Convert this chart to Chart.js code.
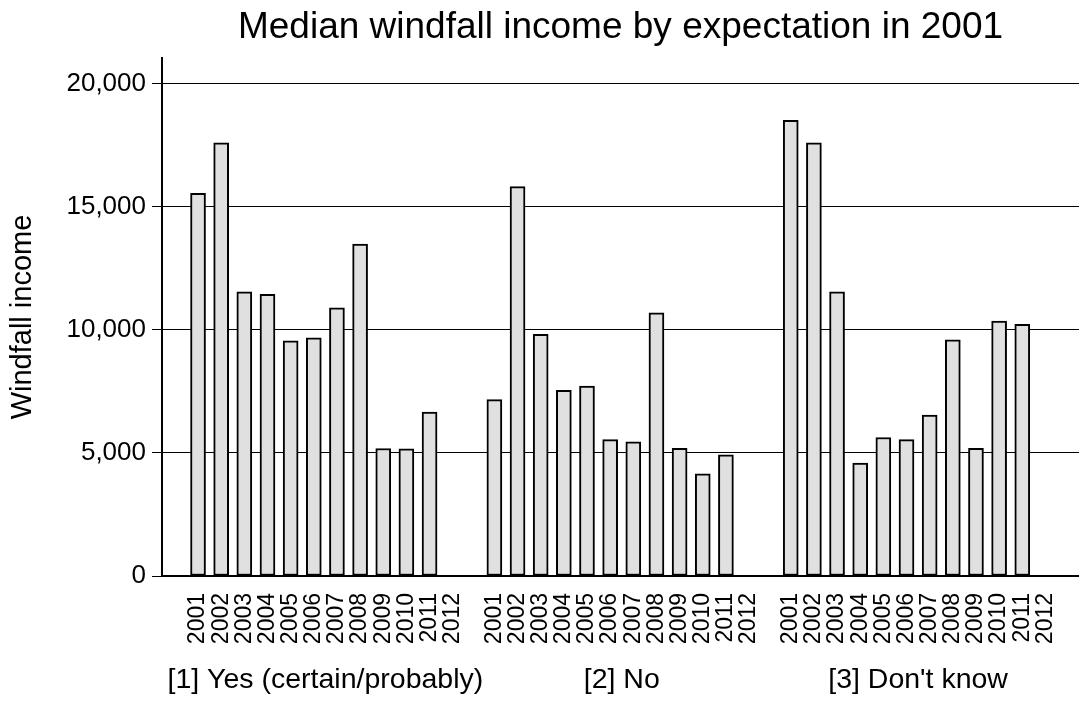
<!DOCTYPE html>
<html>
<head>
<meta charset="utf-8">
<script src="https://cdn.jsdelivr.net/npm/chart.js@4.4.1/dist/chart.umd.min.js"></script>
<style>
  html, body { margin: 0; padding: 0; background: #ffffff; }
  #wrap { width: 1079px; height: 704px; }
</style>
</head>
<body>
<div id="wrap"><canvas id="chart" width="1079" height="704"></canvas></div>
<script>
// ---- data ----
const years = ['2001','2002','2003','2004','2005','2006','2007','2008','2009','2010','2011','2012'];
const groups = ['[1] Yes (certain/probably)', '[2] No', "[3] Don't know"];
const yesValues = [15550, 17600, 11550, 11450, 9560, 9680, 10900, 13490, 5180, 5170, 6660, null];
const noValues  = [7170, 15820, 9820, 7550, 7720, 5540, 5450, 10690, 5190, 4150, 4920, null];
const dkValues  = [18520, 17600, 11550, 4590, 5630, 5540, 6540, 9600, 5190, 10360, 10230, null];
const yTicks = [0, 5000, 10000, 15000, 20000];

// ---- layout helpers ----
const groupStride = 12.8;          // slots between the first bars of two groups
const seriesByGroup = [yesValues, noValues, dkValues];
const xPos = (g, i) => g * groupStride + i;
const barPositions = [];
const points = [];
seriesByGroup.forEach((vals, g) => {
  vals.forEach((v, i) => {
    barPositions.push(xPos(g, i));
    points.push({ x: xPos(g, i), y: v });
  });
});
const groupCenters = groups.map((_, g) => xPos(g, (years.length - 1) / 2));
const X_MIN = -1.556, X_MAX = 38.05;
const FONT = "'Liberation Sans', Arial, Helvetica, sans-serif";
const noPad = (scale) => { scale.paddingLeft = 0; scale.paddingRight = 0; };

new Chart(document.getElementById('chart'), {
  type: 'bar',
  data: {
    datasets: [{
      data: points,
      backgroundColor: '#e0e0e0',
      borderColor: '#000000',
      borderWidth: 2,
      borderSkipped: false,
      barThickness: 15
    }]
  },
  options: {
    responsive: false,
    animation: false,
    devicePixelRatio: 1,
    layout: { padding: { left: 0, right: 0, top: 0, bottom: 0 } },
    plugins: {
      legend: { display: false },
      tooltip: { enabled: false },
      title: {
        display: true,
        text: 'Median windfall income by expectation in 2001',
        color: '#000',
        font: { family: FONT, size: 37, weight: 'normal' },
        padding: { top: 6, bottom: 7.6 },
        fullSize: false
      }
    },
    scales: {
      x: {
        type: 'linear',
        position: 'bottom',
        offset: false,
        min: X_MIN,
        max: X_MAX,
        grid: { display: false, drawTicks: false, offset: false },
        border: { display: true, color: '#000', width: 2 },
        afterBuildTicks: (scale) => { scale.ticks = barPositions.map(v => ({ value: v })); },
        afterFit: (scale) => { scale.height = 70; noPad(scale); },
        ticks: {
          autoSkip: false,
          minRotation: 90,
          maxRotation: 90,
          padding: 17,
          color: '#000',
          font: { family: FONT, size: 23 },
          callback: (value, index) => years[index % years.length]
        }
      },
      x2: {
        type: 'linear',
        position: 'bottom',
        offset: false,
        min: X_MIN,
        max: X_MAX,
        grid: { display: false, drawTicks: false, offset: false },
        border: { display: false },
        afterBuildTicks: (scale) => { scale.ticks = groupCenters.map(v => ({ value: v })); },
        afterFit: (scale) => { scale.height = 58; noPad(scale); },
        ticks: {
          autoSkip: false,
          minRotation: 0,
          maxRotation: 0,
          padding: 17,
          color: '#000',
          font: { family: FONT, size: 28.5 },
          callback: (value, index) => groups[index]
        }
      },
      y: {
        type: 'linear',
        min: 0,
        max: 21050,
        afterBuildTicks: (scale) => { scale.ticks = yTicks.map(v => ({ value: v })); },
        afterFit: (scale) => { scale.width = 162; scale.paddingTop = 0; scale.paddingBottom = 0; },
        grid: { color: '#000', lineWidth: 1, drawTicks: true, tickLength: 10, tickColor: '#000' },
        border: { display: true, color: '#000', width: 2 },
        ticks: {
          padding: 6,
          color: '#000',
          font: { family: FONT, size: 26 },
          callback: (v) => Number(v).toLocaleString('en-US')
        },
        title: {
          display: true,
          text: 'Windfall income',
          color: '#000',
          font: { family: FONT, size: 29 },
          padding: { top: 5.6, bottom: 0 }
        }
      }
    }
  }
});
</script>
</body>
</html>
